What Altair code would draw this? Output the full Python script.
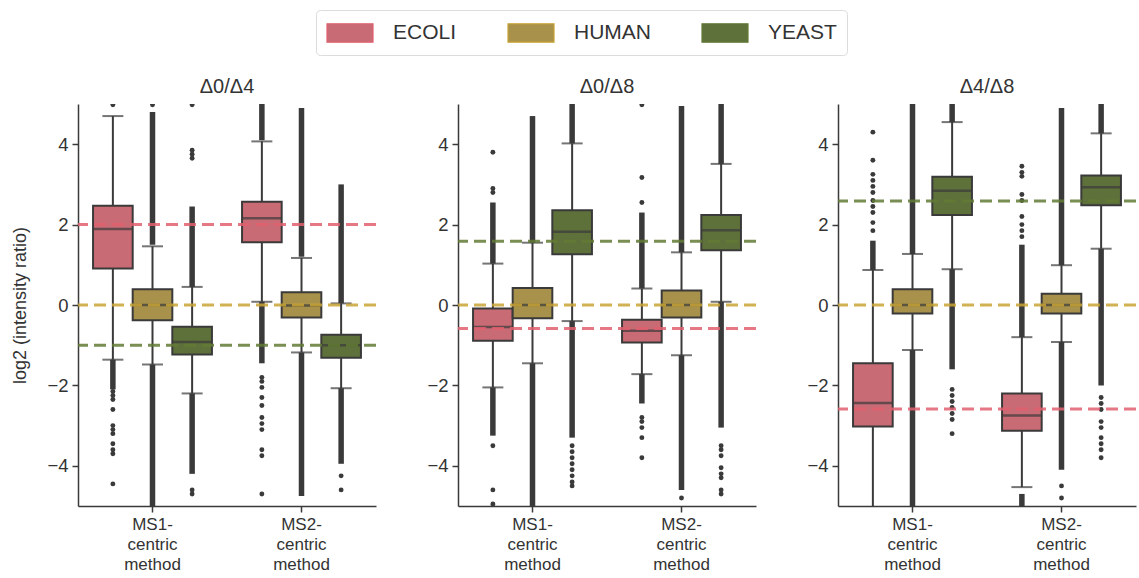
import altair as alt
import pandas as pd

SPECIES = ["ECOLI", "HUMAN", "YEAST"]
METHODS = ["MS1-\ncentric\nmethod", "MS2-\ncentric\nmethod"]
PANELS = ["Δ0/Δ4", "Δ0/Δ8", "Δ4/Δ8"]
BOX_FILL = ["#c96b75", "#a8914a", "#5f713b"]
LINE_COLOR = ["#e0606e", "#c9a435", "#617a34"]
Y_TICKS = [-4, -2, 0, 2, 4]

# box order in every panel: MS1 ECOLI, MS1 HUMAN, MS1 YEAST, MS2 ECOLI, MS2 HUMAN, MS2 YEAST
# ---- panel 1: Δ0/Δ4
P1_Q1 = [0.91, -0.38, -1.23, 1.56, -0.31, -1.31]
P1_MED = [1.89, 0.0, -0.92, 2.16, -0.01, -1.0]
P1_Q3 = [2.47, 0.39, -0.54, 2.57, 0.32, -0.74]
P1_WLO = [-1.36, -1.48, -2.2, 0.08, -1.18, -2.07]
P1_WHI = [4.70, 1.46, 0.45, 4.07, 1.17, 0.04]
P1_EXPECTED = [2.0, 0.0, -1.0]
P1_DENSE_BOX = [0, 1, 1, 2, 2, 3, 3, 4, 4, 5, 5]
P1_DENSE_LO = [-2.1, 1.5, -5.2, 0.45, -4.2, 4.1, -1.45, 1.2, -4.75, 0.04, -3.95]
P1_DENSE_HI = [-1.36, 4.8, -1.48, 2.45, -2.2, 5.2, 0.08, 4.9, -1.18, 3.0, -2.07]
P1_PT_BOX = [0, 0, 0, 0, 0, 0, 0, 0, 0, 0, 0, 0, 1,
             2, 2, 2, 2, 2, 2,
             3, 3, 3, 3, 3, 3, 3, 3, 3, 3, 3, 5, 5]
P1_PT_VAL = [4.98, -2.15, -2.25, -2.35, -2.6, -3.0, -3.1, -3.2, -3.45, -3.6, -3.7, -4.45, 4.98,
             3.65, 3.75, 3.85, 4.98, -4.6, -4.7,
             -1.8, -1.9, -2.05, -2.3, -2.5, -2.8, -2.95, -3.1, -3.6, -3.75, -4.7, -4.25, -4.6]

# ---- panel 2: Δ0/Δ8
P2_Q1 = [-0.89, -0.33, 1.26, -0.93, -0.31, 1.36]
P2_MED = [-0.55, 0.0, 1.82, -0.64, 0.0, 1.86]
P2_Q3 = [-0.09, 0.42, 2.36, -0.37, 0.36, 2.24]
P2_WLO = [-2.05, -1.45, -0.40, -1.72, -1.25, 0.08]
P2_WHI = [1.03, 1.55, 4.02, 0.41, 1.31, 3.51]
P2_EXPECTED = [-0.585, 0.0, 1.585]
P2_DENSE_BOX = [0, 0, 1, 1, 2, 2, 3, 3, 4, 4, 5, 5]
P2_DENSE_LO = [1.03, -3.25, 1.55, -5.2, 4.02, -3.3, 0.41, -2.45, 1.31, -4.6, 3.51, -3.05]
P2_DENSE_HI = [2.55, -2.05, 4.7, -1.45, 5.2, -0.4, 2.3, -1.72, 4.95, -1.25, 5.2, 0.08]
P2_PT_BOX = [0, 0, 0, 0, 0, 0,
             2, 2, 2, 2, 2, 2, 2, 2,
             3, 3, 3, 3, 3, 3, 3, 3,
             4,
             5, 5, 5, 5, 5, 5, 5, 5]
P2_PT_VAL = [2.8, 2.9, 3.8, -3.5, -4.6, -4.95,
             -3.5, -3.65, -3.8, -3.95, -4.1, -4.25, -4.4, -4.5,
             2.55, 3.17, 4.98, -2.8, -2.9, -3.05, -3.3, -3.8,
             -4.8,
             -3.5, -3.6, -3.75, -4.05, -4.2, -4.3, -4.6, -4.7]

# ---- panel 3: Δ4/Δ8
P3_Q1 = [-3.02, -0.21, 2.24, -3.13, -0.21, 2.48]
P3_MED = [-2.44, 0.0, 2.84, -2.75, 0.0, 2.93]
P3_Q3 = [-1.45, 0.39, 3.19, -2.2, 0.28, 3.22]
P3_WLO = [-5.6, -1.12, 0.89, -4.53, -0.92, 1.40]
P3_WHI = [0.87, 1.27, 4.55, -0.8, 0.99, 4.27]
P3_EXPECTED = [-2.585, 0.0, 2.585]
P3_DENSE_BOX = [0, 1, 1, 2, 2, 3, 3, 4, 4, 5, 5]
P3_DENSE_LO = [0.87, 1.27, -5.2, 4.55, -1.6, -0.8, -5.2, 0.99, -4.1, 4.27, -2.0]
P3_DENSE_HI = [1.6, 5.2, -1.12, 5.2, 0.89, 1.5, -4.7, 4.9, -0.92, 5.2, 1.4]
P3_PT_BOX = [0, 0, 0, 0, 0, 0, 0, 0, 0, 0, 0,
             2, 2, 2, 2, 2, 2, 2,
             3, 3, 3, 3, 3, 3, 3, 3, 3,
             4, 4,
             5, 5, 5, 5, 5, 5, 5, 5, 5]
P3_PT_VAL = [1.85, 2.05, 2.3, 2.45, 2.6, 2.8, 2.95, 3.1, 3.25, 3.6, 4.3,
             -2.1, -2.25, -2.4, -2.55, -2.7, -2.85, -3.2,
             1.7, 1.85, 2.0, 2.2, 2.6, 2.75, 3.2, 3.3, 3.45,
             -4.5, -4.8,
             -2.3, -2.45, -2.6, -2.9, -3.05, -3.3, -3.45, -3.6, -3.8]

FONT = "Liberation Sans"
DARK = "#3a3a3a"
Y_TITLE = "log2 (intensity ratio)"


def box_keys(idx):
    return METHODS[idx // 3], SPECIES[idx % 3]


def make_panel(title, q1, med, q3, wlo, whi, expected,
               dense_box, dense_lo, dense_hi, pt_box, pt_val, show_title):
    boxes = pd.DataFrame({
        "method": [box_keys(i)[0] for i in range(6)],
        "species": [box_keys(i)[1] for i in range(6)],
        "q1": q1, "med": med, "q3": q3, "wlo": wlo, "whi": whi,
    })
    dense = pd.DataFrame({
        "method": [box_keys(i)[0] for i in dense_box],
        "species": [box_keys(i)[1] for i in dense_box],
        "lo": dense_lo, "hi": dense_hi,
    })
    pts = pd.DataFrame({
        "method": [box_keys(i)[0] for i in pt_box],
        "species": [box_keys(i)[1] for i in pt_box],
        "v": pt_val,
    })
    exp = pd.DataFrame({"species": SPECIES, "v": expected})

    yscale = alt.Scale(domain=[-5, 5], nice=False, zero=False)
    yaxis = alt.Axis(values=Y_TICKS, grid=False, tickSize=6, tickWidth=1.5,
                     domainWidth=1.5, domainColor=DARK, tickColor=DARK,
                     labelFontSize=18.5, labelColor="#333", labelFont=FONT,
                     labelPadding=4, titleFontSize=18, titleFont=FONT,
                     titleFontWeight="normal", titleColor="#333", titlePadding=17)
    ytitle = Y_TITLE if show_title else None

    def Y(field):
        return alt.Y(field, type="quantitative", scale=yscale, axis=yaxis, title=ytitle)

    X = alt.X("method:N", sort=METHODS, title=None,
              scale=alt.Scale(paddingInner=0, paddingOuter=0),
              axis=alt.Axis(labelAngle=0, labelExpr="split(datum.label, '\\n')",
                            labelFontSize=17, labelFont=FONT, labelColor="#333",
                            labelLineHeight=20, labelPadding=4,
                            tickSize=6, tickWidth=1.5, tickColor=DARK,
                            domainWidth=1.5, domainColor=DARK))
    XO = alt.XOffset("species:N", sort=SPECIES,
                     scale=alt.Scale(paddingInner=0, paddingOuter=0.38))

    whisk_lo = alt.Chart(boxes).mark_rule(color=DARK, strokeWidth=2, clip=True).encode(
        x=X, xOffset=XO, y=Y("wlo"), y2="q1")
    whisk_hi = alt.Chart(boxes).mark_rule(color=DARK, strokeWidth=2, clip=True).encode(
        x=X, xOffset=XO, y=Y("q3"), y2="whi")
    cap_lo = alt.Chart(boxes).mark_tick(color=DARK, size=21, thickness=2, clip=True).encode(
        x=X, xOffset=XO, y=Y("wlo"))
    cap_hi = alt.Chart(boxes).mark_tick(color=DARK, size=21, thickness=2, clip=True).encode(
        x=X, xOffset=XO, y=Y("whi"))
    dense_rule = alt.Chart(dense).mark_rule(color=DARK, strokeWidth=5.5, clip=True).encode(
        x=X, xOffset=XO, y=Y("lo"), y2="hi")
    points = alt.Chart(pts).mark_circle(color=DARK, size=24, opacity=1, clip=True).encode(
        x=X, xOffset=XO, y=Y("v"))
    box = alt.Chart(boxes).mark_bar(stroke=DARK, strokeWidth=2, clip=True).encode(
        x=X, xOffset=XO, y=Y("q1"), y2="q3",
        fill=alt.Fill("species:N", sort=SPECIES,
                      scale=alt.Scale(domain=SPECIES, range=BOX_FILL),
                      legend=alt.Legend(title=None, orient="none", direction="horizontal",
                                        legendX=238, legendY=-94)))
    median = alt.Chart(boxes).mark_tick(color=DARK, size=39, thickness=2.5, clip=True).encode(
        x=X, xOffset=XO, y=Y("med"))
    exp_rule = alt.Chart(exp).mark_rule(strokeDash=[12, 6], strokeWidth=3, opacity=0.85).encode(
        y=Y("v"),
        stroke=alt.Stroke("species:N", scale=alt.Scale(domain=SPECIES, range=LINE_COLOR),
                          legend=None))

    return alt.layer(whisk_lo, whisk_hi, cap_lo, cap_hi, dense_rule, points,
                     box, median, exp_rule).properties(
        width=298, height=402,
        title=alt.TitleParams(title, fontSize=20, font=FONT, fontWeight="normal",
                              color="#333", offset=7))


p1 = make_panel(PANELS[0], P1_Q1, P1_MED, P1_Q3, P1_WLO, P1_WHI, P1_EXPECTED,
                P1_DENSE_BOX, P1_DENSE_LO, P1_DENSE_HI, P1_PT_BOX, P1_PT_VAL, True)
p2 = make_panel(PANELS[1], P2_Q1, P2_MED, P2_Q3, P2_WLO, P2_WHI, P2_EXPECTED,
                P2_DENSE_BOX, P2_DENSE_LO, P2_DENSE_HI, P2_PT_BOX, P2_PT_VAL, False)
p3 = make_panel(PANELS[2], P3_Q1, P3_MED, P3_Q3, P3_WLO, P3_WHI, P3_EXPECTED,
                P3_DENSE_BOX, P3_DENSE_LO, P3_DENSE_HI, P3_PT_BOX, P3_PT_VAL, False)

chart = alt.hconcat(p1, p2, p3, spacing=82, bounds="flush").resolve_scale(
    fill="shared", stroke="shared"
).properties(
    padding={"left": 11, "top": 9, "right": 0, "bottom": 0},
    background="white",
).configure_view(stroke=None).configure_legend(
    symbolType="M-1,-0.8H3V0.8H-1Z",
    symbolSize=529,
    symbolStrokeColor=DARK,
    symbolStrokeWidth=1.2,
    labelFontSize=21,
    labelFont=FONT,
    labelColor="#333",
    labelOffset=42,
    columnPadding=48,
    padding=10,
    strokeColor="#dcdcdc",
    fillColor="white",
    cornerRadius=4,
)

chart.save("out.html", embed_options={"renderer": "svg", "actions": False})
